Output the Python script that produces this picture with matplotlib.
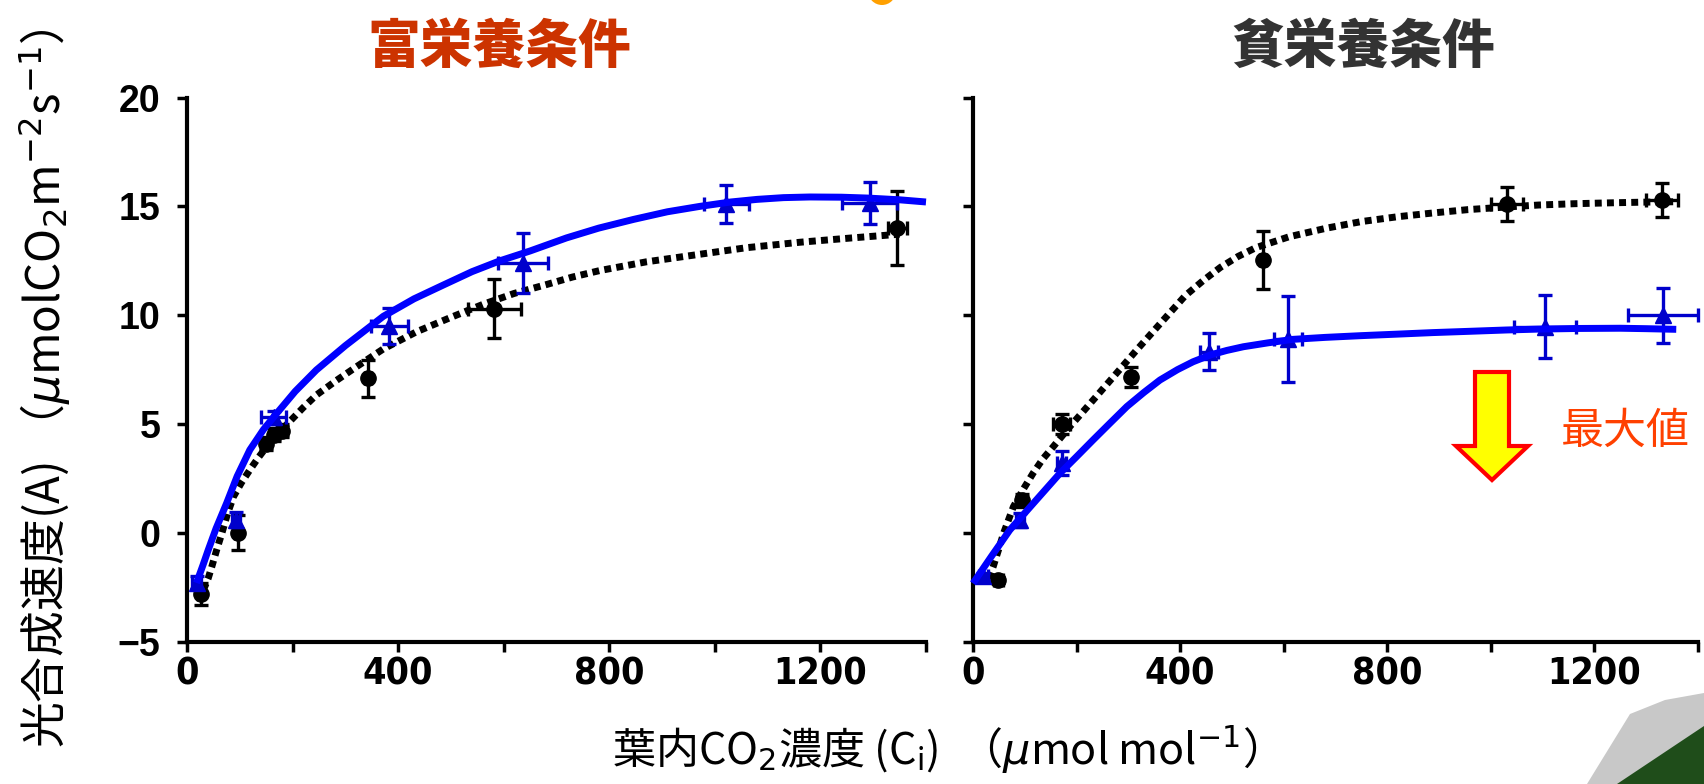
import matplotlib
matplotlib.use("Agg")
import matplotlib.pyplot as plt
from matplotlib.patches import Polygon, Ellipse

plt.rcParams['font.family'] = ['Noto Sans CJK JP', 'DejaVu Sans']

# ---- 富栄養条件 (left) ----
eu_black_x = [26, 96, 150, 165, 180, 343, 582, 1346]
eu_black_y = [-2.8, 0.0, 4.1, 4.5, 4.7, 7.1, 10.3, 14.0]
eu_black_yerr = [0.5, 0.8, 0.3, 0.3, 0.3, 0.85, 1.35, 1.7]
eu_black_xerr = [5, 5, 10, 10, 10, 5, 50, 18]

eu_blue_x = [18, 93, 164, 383, 636, 1022, 1293]
eu_blue_y = [-2.3, 0.6, 5.3, 9.5, 12.4, 15.1, 15.15]
eu_blue_yerr = [0.3, 0.35, 0.3, 0.84, 1.38, 0.87, 0.97]
eu_blue_xerr = [8, 8, 24, 35, 47, 43, 52]

# fitted curves
eu_black_fit_x = [31, 40, 47, 56, 66, 77, 88, 103, 119, 135, 151, 172, 194, 220, 245, 283, 321,
                  372, 435, 500, 561, 620, 680, 730, 782, 870, 972, 1060, 1161, 1260, 1350]
eu_black_fit_y = [-2.63, -2.1, -1.55, -0.8, -0.02, 0.9, 1.66, 2.3, 2.89, 3.45, 3.96, 4.55, 5.1,
                  5.75, 6.33, 7.0, 7.63, 8.45, 9.24, 9.9, 10.5, 11.0, 11.4, 11.75, 12.05, 12.45,
                  12.8, 13.1, 13.35, 13.55, 13.72]

eu_blue_fit_x = [18, 30, 40, 55, 75, 95, 119, 145, 170, 205, 245, 300, 372, 430, 486, 540, 593,
                 650, 719, 780, 846, 910, 972, 1030, 1080, 1130, 1180, 1240, 1290, 1350, 1400]
eu_blue_fit_y = [-2.3, -1.5, -0.8, 0.2, 1.36, 2.6, 3.81, 4.75, 5.49, 6.5, 7.48, 8.6, 9.95, 10.75,
                 11.39, 12.0, 12.5, 12.95, 13.55, 14.0, 14.4, 14.75, 15.0, 15.2, 15.32, 15.4,
                 15.43, 15.42, 15.38, 15.3, 15.2]

# ---- 貧栄養条件 (right) ----
oli_black_x = [49, 94, 171, 306, 560, 1031, 1330]
oli_black_y = [-2.17, 1.5, 5.0, 7.15, 12.55, 15.1, 15.3]
oli_black_yerr = [0.15, 0.3, 0.46, 0.47, 1.34, 0.77, 0.77]
oli_black_xerr = [8, 8, 16, 5, 5, 31, 31]

oli_blue_x = [20, 91, 171, 456, 609, 1105, 1332]
oli_blue_y = [-2.0, 0.59, 3.2, 8.32, 8.9, 9.47, 10.0]
oli_blue_yerr = [0.15, 0.34, 0.54, 0.84, 1.99, 1.45, 1.27]
oli_blue_xerr = [8, 8, 8, 18, 27, 60, 68]

oli_black_fit_x = [30, 39, 49, 59, 78, 97, 116, 135, 155, 187, 232, 277, 316, 361, 410, 445,
                   478, 512, 546, 610, 683, 750, 819, 890, 956, 1030, 1092, 1160, 1229, 1290, 1352]
oli_black_fit_y = [-2.1, -1.55, -0.8, -0.02, 1.2, 2.0, 2.74, 3.4, 3.96, 4.88, 6.1, 7.33, 8.4,
                   9.6, 10.9, 11.6, 12.2, 12.7, 13.1, 13.6, 14.0, 14.3, 14.52, 14.7, 14.85,
                   14.97, 15.06, 15.12, 15.16, 15.19, 15.21]

oli_blue_fit_x = [0, 35, 71, 120, 168, 200, 232, 265, 297, 330, 361, 395, 425, 458, 490, 522,
                  570, 618, 680, 750, 820, 888, 960, 1030, 1092, 1170, 1250, 1300, 1358]
oli_blue_fit_y = [-2.32, -1.1, 0.13, 1.45, 2.74, 3.5, 4.27, 5.05, 5.8, 6.45, 7.02, 7.5, 7.86,
                  8.17, 8.38, 8.55, 8.73, 8.89, 8.98, 9.06, 9.13, 9.2, 9.26, 9.32, 9.36, 9.39,
                  9.4, 9.38, 9.35]

x_ticks = [0, 200, 400, 600, 800, 1000, 1200, 1400]
x_labels = ['0', '', '400', '', '800', '', '1200', '']
y_ticks = [-5, 0, 5, 10, 15, 20]
y_labels = ['\u22125', '0', '5', '10', '15', '20']

BLUE_LINE = '#0000ff'
BLUE_PT = '#0000cc'

W, H = 1704, 784
fig = plt.figure(figsize=(W / 100, H / 100), dpi=100)
ax1 = fig.add_axes([187 / W, 1 - 641.7 / H, 739 / W, 544.2 / H])
ax2 = fig.add_axes([973 / W, 1 - 641.7 / H, 725 / W, 544.2 / H])


def draw_panel(ax, bx, by, bxe, bye, ux, uy, uxe, uye, bfx, bfy, ufx, ufy):
    ax.plot(bfx, bfy, color='black', lw=5, linestyle=(0, (1, 0.75)),
            dash_capstyle='butt', zorder=3, clip_on=False)
    ax.errorbar(bx, by, xerr=bxe, yerr=bye, fmt='o', color='black', ms=11,
                elinewidth=2.4, capsize=5, capthick=2.4, zorder=4, clip_on=False)
    ax.errorbar(ux, uy, xerr=uxe, yerr=uye, fmt='^', color=BLUE_PT, ms=12,
                elinewidth=2.4, capsize=5, capthick=2.4, zorder=5, clip_on=False)
    ax.plot(ufx, ufy, color=BLUE_LINE, lw=5, solid_capstyle='butt',
            solid_joinstyle='round', zorder=6, clip_on=False)

    ax.set_xlim(0, 1400)
    ax.set_ylim(-5, 20)
    for s in ['top', 'right']:
        ax.spines[s].set_visible(False)
    for s in ['left', 'bottom']:
        ax.spines[s].set_linewidth(3)
    ax.set_xticks(x_ticks)
    ax.set_xticklabels(x_labels, family='DejaVu Sans', stretch='condensed',
                       fontsize=27, fontweight='bold')
    ax.set_yticks(y_ticks)
    ax.tick_params(direction='out', length=7, width=2.5, pad=4)
    ax.tick_params(axis='y', pad=12)


draw_panel(ax1, eu_black_x, eu_black_y, eu_black_xerr, eu_black_yerr,
           eu_blue_x, eu_blue_y, eu_blue_xerr, eu_blue_yerr,
           eu_black_fit_x, eu_black_fit_y, eu_blue_fit_x, eu_blue_fit_y)
draw_panel(ax2, oli_black_x, oli_black_y, oli_black_xerr, oli_black_yerr,
           oli_blue_x, oli_blue_y, oli_blue_xerr, oli_blue_yerr,
           oli_black_fit_x, oli_black_fit_y, oli_blue_fit_x, oli_blue_fit_y)

ax1.set_yticklabels(y_labels, family=['Liberation Sans', 'DejaVu Sans'],
                    fontsize=27, fontweight='bold')
ax2.set_yticklabels([])

# titles
fig.text(499 / W, 1 - 47 / H, '富栄養条件', color='#cc3300', fontsize=38,
         fontweight='black', ha='center', va='center')
fig.text(1363 / W, 1 - 47 / H, '貧栄養条件', color='#333333', fontsize=38,
         fontweight='black', ha='center', va='center')

# axis labels
fig.text(44 / W, 0.505, r'光合成速度(A) （$\mu$molCO$_{2}$m$^{-2}$s$^{-1}$）', rotation=90,
         fontsize=33, ha='center', va='center')
fig.text(935 / W, 1 - 750 / H, r'葉内CO$_{2}$濃度 (C$_{\mathregular{i}}$)  （$\mu$mol mol$^{-1}$）',
         fontsize=31, ha='center', va='center')

# down arrow and annotation
ax_x, top, tip = 1492, 372, 480
shaft, head, head_len = 17, 36, 34
arrow_px = [(ax_x - shaft, top), (ax_x + shaft, top), (ax_x + shaft, tip - head_len),
            (ax_x + head, tip - head_len), (ax_x, tip), (ax_x - head, tip - head_len),
            (ax_x - shaft, tip - head_len)]
fig.patches.append(Polygon([(px / W, 1 - py / H) for px, py in arrow_px], closed=True,
                           facecolor='#ffff00', edgecolor='#ff0000', lw=3,
                           transform=fig.transFigure, zorder=10))
fig.text(1625 / W, 1 - 432 / H, '最大値', color='#ff4000', fontsize=31,
         ha='center', va='center')

# slide decorations
fig.patches.append(Ellipse((882 / W, 1 + 9 / H), 28 / W, 28 / H, facecolor='#ffa000',
                           edgecolor='none', transform=fig.transFigure))
gray_px = [(1630, 714), (1665, 700), (1704, 693), (1704, 784), (1587, 784)]
fig.patches.append(Polygon([(px / W, 1 - py / H) for px, py in gray_px], closed=True,
                           facecolor='#c8c8c8', edgecolor='none', transform=fig.transFigure))
green_px = [(1704, 726), (1704, 784), (1617, 784)]
fig.patches.append(Polygon([(px / W, 1 - py / H) for px, py in green_px], closed=True,
                           facecolor='#1f4d1a', edgecolor='none', transform=fig.transFigure))

fig.savefig('out.png', dpi=100)
